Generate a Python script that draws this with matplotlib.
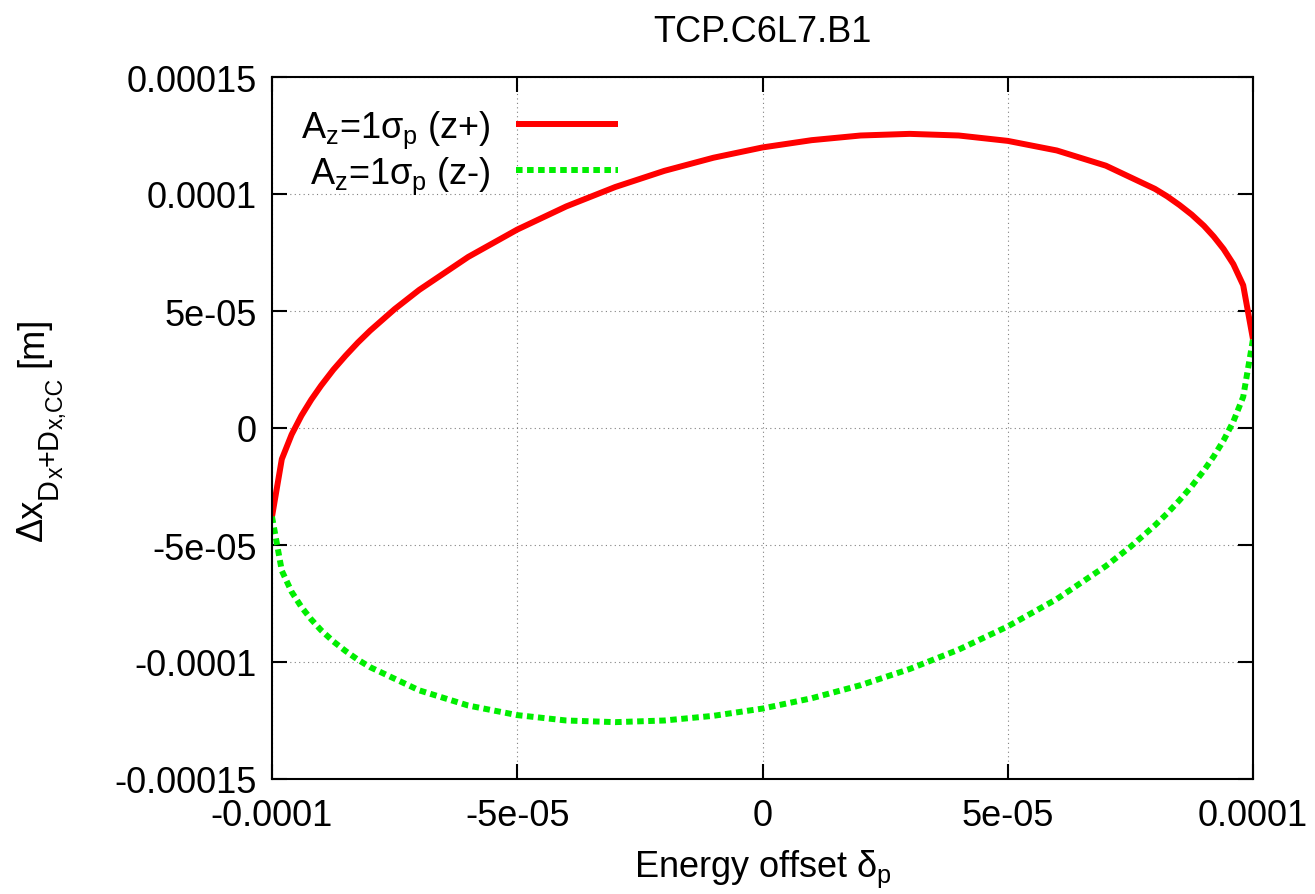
import numpy as np
from matplotlib import pyplot as plt

# values (units of 1e-5)
x_up = [10.0, 9.8, 9.6, 9.4, 9.2, 9.0, 8.75, 8.5, 8.25, 8.0, 7.0, 6.0, 5.0, 4.0, 3.0, 2.0, 1.0, 0.0,
        -1.0, -2.0, -3.0, -4.0, -5.0, -6.0, -7.0, -7.5, -8.0, -8.25, -8.5, -8.75, -9.0, -9.2, -9.4, -9.6, -9.8, -10.0]
y_up = [3.79, 6.10, 7.00, 7.65, 8.18, 8.64, 9.12, 9.53, 9.90, 10.22, 11.21, 11.86, 12.27, 12.50, 12.57, 12.50, 12.30, 11.99,
        11.55, 10.99, 10.30, 9.47, 8.48, 7.31, 5.90, 5.08, 4.16, 3.65, 3.09, 2.49, 1.81, 1.21, 0.53, -0.28, -1.33, -3.79]
x_dn = [-10.0, -9.8, -9.6, -9.4, -9.2, -9.0, -8.75, -8.5, -8.25, -8.0, -7.0, -6.0, -5.0, -4.0, -3.0, -2.0, -1.0, 0.0,
        1.0, 2.0, 3.0, 4.0, 5.0, 6.0, 7.0, 7.5, 8.0, 8.25, 8.5, 8.75, 9.0, 9.2, 9.4, 9.6, 9.8, 10.0]
y_dn = [-3.79, -6.10, -7.00, -7.65, -8.18, -8.64, -9.12, -9.53, -9.90, -10.22, -11.21, -11.86, -12.27, -12.50, -12.57, -12.50, -12.30, -11.99,
        -11.55, -10.99, -10.30, -9.47, -8.48, -7.31, -5.90, -5.08, -4.16, -3.65, -3.09, -2.49, -1.81, -1.21, -0.53, 0.28, 1.33, 3.79]

xt = [-1e-4, -5e-5, 0, 5e-5, 1e-4]
xt_lab = ['-0.0001', '-5e-05', '0', '5e-05', '0.0001']
yt = [-1.5e-4, -1e-4, -5e-5, 0, 5e-5, 1e-4, 1.5e-4]
yt_lab = ['-0.00015', '-0.0001', '-5e-05', '0', '5e-05', '0.0001', '0.00015']

FS = 26
W, H = 1315, 895

plt.rcParams['font.family'] = ['Liberation Sans', 'DejaVu Sans']
plt.rcParams['mathtext.fontset'] = 'custom'
plt.rcParams['mathtext.rm'] = 'Liberation Sans'
plt.rcParams['mathtext.it'] = 'Liberation Sans'
plt.rcParams['mathtext.bf'] = 'Liberation Sans:bold'

fig = plt.figure(figsize=(W/100, H/100), dpi=100)
ax = fig.add_axes([272/W, 1-780/H, (1253-272)/W, (780-78)/H])

xu = np.array(x_up)*1e-5
yu = np.array(y_up)*1e-5
xd = np.array(x_dn)*1e-5
yd = np.array(y_dn)*1e-5

ax.plot(xu, yu, color='#ff0000', lw=4.3, label=r'A$_z$=1$\sigma_p$ (z+)', solid_capstyle='butt')
ax.plot(xd, yd, color='#00ee00', lw=4.3, dashes=(1.1, 0.75), label=r'A$_z$=1$\sigma_p$ (z-)',
        dash_capstyle='butt')

ax.set_xlim(-1e-4, 1e-4)
ax.set_ylim(-1.5e-4, 1.5e-4)
ax.set_xticks(xt)
ax.set_xticklabels(xt_lab)
ax.set_yticks(yt)
ax.set_yticklabels(yt_lab)
ax.tick_params(direction='in', length=11, width=1.5, top=True, right=True, labelsize=FS)
ax.tick_params(axis='x', pad=14)
ax.tick_params(axis='y', pad=11)
ax.grid(color='#808080', linestyle=(0, (1, 3)), linewidth=0.8)
for s in ax.spines.values():
    s.set_linewidth(1.5)

ax.set_title('TCP.C6L7.B1', fontsize=FS, pad=26)
ax.set_xlabel(r'Energy offset $\delta_p$', fontsize=FS, labelpad=10)

leg = ax.legend(loc='upper left', bbox_to_anchor=(0.03, 0.955), frameon=False, fontsize=FS,
                markerfirst=False, handlelength=2.8, handletextpad=0.7, labelspacing=0.12,
                borderaxespad=0, borderpad=0)
for t in leg.get_texts():
    t.set_ha('right')

# y label built from pieces so the sub/subsub sizes look like the gnuplot one
r = fig.canvas.get_renderer()
parts = [('Δx', 1.0, 0, 0), ('D', 0.8, 1, 0), ('x', 0.64, 2, 0), ('+', 0.8, 1, 0),
         ('D', 0.8, 1, 0), ('x,CC', 0.64, 2, 0), ('[m]', 1.0, 0, 10)]
shift = {0: 0, 1: 15, 2: 21}
pieces = []
total = 0
for s, f, lev, gap in parts:
    t = fig.text(0, 0, s, fontsize=FS*f, rotation=90, rotation_mode='anchor',
                 ha='left', va='baseline')
    w = t.get_window_extent(r).height
    pieces.append((t, w, lev, gap))
    total += w + gap
y = (H - 429) - total/2
for t, w, lev, gap in pieces:
    y += gap
    t.set_position(((42 + shift[lev])/W, y/H))
    y += w

plt.savefig('out.png', dpi=100)
